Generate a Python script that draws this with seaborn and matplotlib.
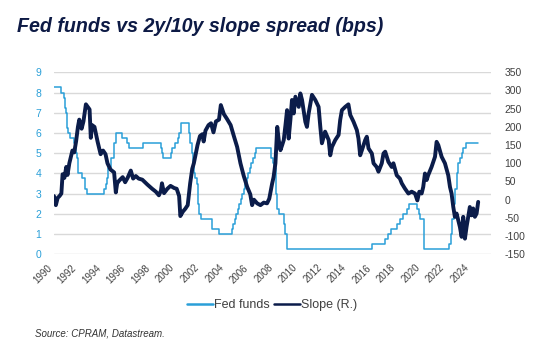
import numpy as np
import pandas as pd
import matplotlib
matplotlib.use("Agg")
import matplotlib.pyplot as plt
from matplotlib.lines import Line2D
import seaborn as sns

# ---------------- data ----------------
fed_dates = [1990.00, 1990.54, 1990.83, 1990.87, 1990.93, 1990.97, 1991.02, 1991.08, 1991.16,
             1991.33, 1991.60, 1991.71, 1991.83, 1991.85, 1991.93, 1991.97, 1992.27, 1992.51,
             1992.68, 1994.09, 1994.24, 1994.30, 1994.38, 1994.62, 1994.87, 1995.09, 1995.51,
             1995.97, 1996.08, 1997.23, 1998.75, 1998.79, 1998.88, 1999.50, 1999.65, 1999.88,
             2000.09, 2000.22, 2000.38, 2001.01, 2001.08, 2001.21, 2001.30, 2001.38, 2001.49,
             2001.64, 2001.71, 2001.75, 2001.84, 2001.95, 2002.85, 2003.48, 2004.49, 2004.61,
             2004.72, 2004.86, 2004.96, 2005.09, 2005.22, 2005.34, 2005.50, 2005.61, 2005.72,
             2005.84, 2005.96, 2006.08, 2006.24, 2006.36, 2006.49, 2007.71, 2007.83, 2007.95,
             2008.06, 2008.08, 2008.21, 2008.33, 2008.77, 2008.83, 2008.96, 2015.96, 2016.96,
             2017.21, 2017.46, 2017.95, 2018.21, 2018.45, 2018.74, 2018.97, 2019.58, 2019.72,
             2019.83, 2020.17, 2020.20, 2022.21, 2022.34, 2022.46, 2022.57, 2022.72, 2022.84,
             2022.96, 2023.09, 2023.22, 2023.34, 2023.57, 2024.58]
fed_rates = [8.25, 8.00, 7.75, 7.50, 7.25, 7.00, 6.75, 6.25, 6.00,
             5.75, 5.50, 5.25, 5.00, 4.75, 4.50, 4.00, 3.75, 3.25,
             3.00, 3.25, 3.50, 3.75, 4.25, 4.75, 5.50, 6.00, 5.75,
             5.50, 5.25, 5.50, 5.25, 5.00, 4.75, 5.00, 5.25, 5.50,
             5.75, 6.00, 6.50, 6.00, 5.50, 5.00, 4.50, 4.00, 3.75,
             3.50, 3.00, 2.50, 2.00, 1.75, 1.25, 1.00, 1.25, 1.50,
             1.75, 2.00, 2.25, 2.50, 2.75, 3.00, 3.25, 3.50, 3.75,
             4.00, 4.25, 4.50, 4.75, 5.00, 5.25, 4.75, 4.50, 4.25,
             3.50, 3.00, 2.25, 2.00, 1.50, 1.00, 0.25, 0.50, 0.75,
             1.00, 1.25, 1.50, 1.75, 2.00, 2.25, 2.50, 2.25, 2.00,
             1.75, 1.25, 0.25, 0.50, 1.00, 1.75, 2.50, 3.25, 4.00,
             4.50, 4.75, 5.00, 5.25, 5.50, 5.50]

slope_dates = [1990.00, 1990.15, 1990.30, 1990.45, 1990.60, 1990.70, 1990.85, 1991.00, 1991.10,
               1991.25, 1991.50, 1991.65, 1991.80, 1991.95, 1992.06, 1992.25, 1992.40, 1992.60,
               1992.75, 1992.90, 1993.00, 1993.10, 1993.30, 1993.55, 1993.80, 1994.00, 1994.20,
               1994.36, 1994.60, 1994.90, 1995.04, 1995.15, 1995.30, 1995.60, 1995.80, 1996.00,
               1996.26, 1996.45, 1996.67, 1996.90, 1997.20, 1997.60, 1998.00, 1998.30, 1998.55,
               1998.72, 1998.80, 1998.97, 1999.24, 1999.50, 1999.80, 2000.00, 2000.20, 2000.30,
               2000.50, 2000.70, 2000.90, 2001.10, 2001.27, 2001.40, 2001.70, 2001.90, 2002.10,
               2002.20, 2002.35, 2002.60, 2002.80, 2003.00, 2003.20, 2003.45, 2003.60, 2003.85,
               2004.10, 2004.40, 2004.66, 2004.93, 2005.20, 2005.47, 2005.75, 2006.00, 2006.15,
               2006.30, 2006.56, 2006.83, 2007.10, 2007.37, 2007.55, 2007.78, 2007.90, 2008.05,
               2008.20, 2008.32, 2008.46, 2008.60, 2008.73, 2008.87, 2009.00, 2009.13, 2009.27,
               2009.40, 2009.54, 2009.68, 2009.95, 2010.08, 2010.22, 2010.49, 2010.62, 2010.76,
               2011.03, 2011.30, 2011.57, 2011.71, 2011.84, 2012.10, 2012.39, 2012.52, 2012.66,
               2012.93, 2013.20, 2013.33, 2013.47, 2013.74, 2014.00, 2014.15, 2014.42, 2014.69,
               2014.82, 2014.96, 2015.10, 2015.37, 2015.50, 2015.64, 2015.91, 2016.05, 2016.30,
               2016.45, 2016.72, 2016.86, 2017.00, 2017.26, 2017.53, 2017.67, 2017.94, 2018.20,
               2018.35, 2018.60, 2018.89, 2019.16, 2019.43, 2019.62, 2019.78, 2019.97, 2020.10,
               2020.24, 2020.38, 2020.50, 2020.78, 2021.06, 2021.19, 2021.33, 2021.60, 2021.87,
               2022.14, 2022.28, 2022.41, 2022.55, 2022.68, 2022.82, 2023.09, 2023.23, 2023.36,
               2023.50, 2023.63, 2023.90, 2024.04, 2024.17, 2024.31, 2024.45, 2024.58]
slope_bps = [10, -15, 5, 10, 17, 70, 60, 90, 68,
             100, 135, 130, 160, 200, 220, 195, 215, 262,
             255, 248, 170, 205, 200, 160, 125, 135, 125,
             100, 83, 75, 20, 45, 52, 62, 48, 60,
             80, 58, 65, 58, 55, 42, 30, 22, 12,
             25, 45, 18, 30, 38, 32, 30, 10, -45,
             -33, -25, -15, 45, 85, 100, 150, 175, 180,
             160, 190, 205, 210, 185, 215, 220, 260, 235,
             222, 205, 175, 145, 100, 65, 35, 15, -15,
             0, -10, -15, -8, -10, 3, 44, 62, 100,
             200, 164, 136, 150, 164, 205, 246, 168, 219,
             274, 237, 283, 255, 292, 274, 214, 200, 237,
             288, 274, 255, 200, 155, 187, 164, 122, 145,
             164, 178, 219, 246, 255, 262, 233, 214, 191,
             168, 122, 136, 164, 173, 141, 127, 100, 90,
             77, 100, 127, 132, 104, 90, 100, 67, 58,
             45, 31, 17, 22, 17, -2, 22, 17, 35,
             72, 54, 67, 90, 118, 159, 150, 118, 100,
             67, 35, 17, -20, -47, -38, -75, -102, -47,
             -107, -75, -20, -43, -24, -47, -38, -6]

xticks = list(range(1990, 2025, 2))
left_ticks = list(range(0, 10))
right_ticks = list(range(-150, 351, 50))
series_names = ["Fed funds", "Slope (R.)"]

fed_df = pd.DataFrame({"date": fed_dates, "rate": fed_rates})
slope_df = pd.DataFrame({"date": slope_dates, "bps": slope_bps})

# ---------------- style ----------------
sns.set_theme(style="white")
plt.rcParams["font.family"] = ["Liberation Sans", "DejaVu Sans"]
plt.rcParams["axes.unicode_minus"] = False

FED_C = "#2a9fd8"
SLOPE_C = "#0b1c4a"
TXT_C = "#404040"

fig = plt.figure(figsize=(5.37, 3.54), dpi=100)
ax = fig.add_axes([54 / 537, 1 - 254.3 / 354, (490.7 - 54) / 537, 182 / 354])
ax2 = ax.twinx()

sns.lineplot(data=fed_df, x="date", y="rate", ax=ax, color=FED_C, lw=1.1,
             drawstyle="steps-post", legend=False)
sns.lineplot(data=slope_df, x="date", y="bps", ax=ax2, color=SLOPE_C, lw=2.8,
             legend=False)

ax.set_xlim(1990.0, 2025.6)
ax.set_ylim(0, 9)
ax2.set_ylim(-150, 350)
ax.set_yticks(left_ticks)
ax2.set_yticks(right_ticks)
ax.set_xticks(xticks)
ax.set_xticklabels([str(t) for t in xticks], rotation=45, ha="right")
ax.set_xlabel("")
ax.set_ylabel("")
ax2.set_ylabel("")

ax.grid(axis="y", color="#d9d9d9", lw=1.0)
ax.grid(axis="x", visible=False)
ax2.grid(False)
ax.set_axisbelow(True)
for a in (ax, ax2):
    for s in a.spines.values():
        s.set_visible(False)
ax.tick_params(axis="y", length=0, pad=9, labelsize=7.5, labelcolor=FED_C)
ax.tick_params(axis="x", length=0, pad=6, labelsize=7, labelcolor=TXT_C)
ax2.tick_params(axis="y", length=0, pad=10, labelsize=7.5, labelcolor=TXT_C)

handles = [Line2D([], [], color=FED_C, lw=1.8), Line2D([], [], color=SLOPE_C, lw=1.8)]
fig.legend(handles, series_names, loc="center", bbox_to_anchor=(272 / 537, 1 - 305 / 354),
           ncol=2, frameon=False, fontsize=9, handlelength=2.1, handletextpad=0.1,
           columnspacing=0.3, labelcolor=TXT_C)

fig.text(17 / 537, 1 - 32 / 354, "Fed funds vs 2y/10y slope spread (bps)",
         fontsize=14.1, fontweight="bold", fontstyle="italic", color="#0d1a45",
         va="baseline", ha="left")
fig.text(35 / 537, 1 - 337 / 354, "Source: CPRAM, Datastream.", fontsize=7,
         fontstyle="italic", color="#333333", va="baseline", ha="left")

fig.savefig("out.png", dpi=100)
